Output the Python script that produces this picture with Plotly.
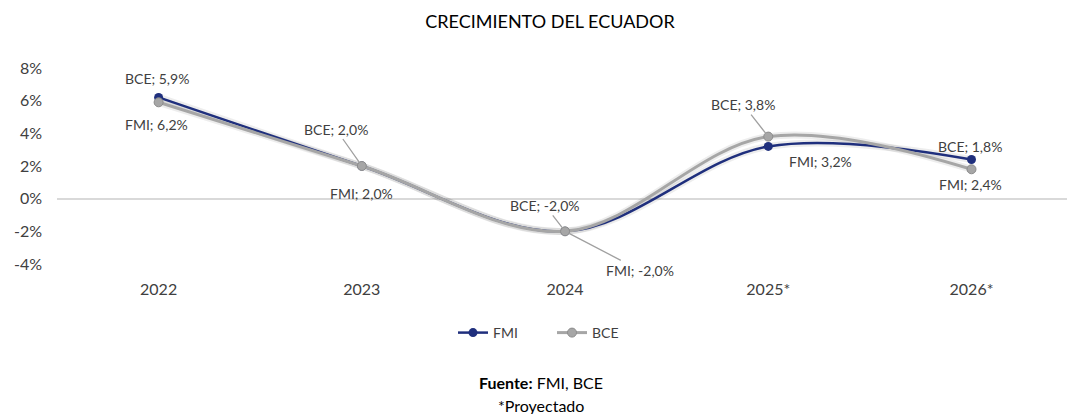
import plotly.graph_objects as go

years = ["2022", "2023", "2024", "2025*", "2026*"]
fmi = [6.2, 2.0, -2.0, 3.2, 2.4]
bce = [5.9, 2.0, -2.0, 3.8, 1.8]
y_ticks = [-4, -2, 0, 2, 4, 6, 8]
y_tick_text = ["-4%", "-2%", "0%", "2%", "4%", "6%", "8%"]

FONT = "Lato"
NAVY = "#1f2f7d"
GRAY = "#a6a6a6"
TXT = "#404040"

xs = list(range(len(years)))

fig = go.Figure()
# soft shadows
for vals in (fmi, bce):
    fig.add_trace(go.Scatter(x=xs, y=vals, mode="lines",
                             line=dict(color="rgba(0,0,0,0.07)", width=7, shape="spline"),
                             showlegend=False, hoverinfo="skip"))
fig.add_trace(go.Scatter(x=xs, y=fmi, name="FMI", mode="lines+markers",
                         line=dict(color=NAVY, width=2.5, shape="spline"),
                         marker=dict(color=NAVY, size=9)))
fig.add_trace(go.Scatter(x=xs, y=bce, name="BCE", mode="lines+markers",
                         line=dict(color=GRAY, width=3, shape="spline"),
                         marker=dict(color=GRAY, size=9, line=dict(color="#8c8c8c", width=1))))

def fmt(v):
    return f"{v:.1f}".replace(".", ",") + "%"

# label placements (pixel offsets): (kind, dx, dy)
bce_place = [("s", -2, 24), ("a", -26, -37), ("a", -20, -26), ("a", -25, -32), ("s", -1, 23)]
fmi_place = [("s", -2, -27), ("s", 0, -27), ("a", 75, 39), ("s", 52, -15), ("s", -1, -25)]

for name, vals, places in (("BCE", bce, bce_place), ("FMI", fmi, fmi_place)):
    for i, (v, (kind, dx, dy)) in enumerate(zip(vals, places)):
        text = f"{name}; {fmt(v)}"
        if kind == "s":
            fig.add_annotation(x=xs[i], y=v, text=text, showarrow=False,
                               xshift=dx, yshift=dy,
                               font=dict(family=FONT, size=14, color=TXT))
        else:
            fig.add_annotation(x=xs[i], y=v, text=text, showarrow=True,
                               arrowhead=0, arrowwidth=1.3, arrowcolor="#a0a0a0",
                               ax=dx, ay=dy, standoff=4,
                               font=dict(family=FONT, size=14, color=TXT))

plot_h = 196.0
def py(pix):
    # pixel y in figure -> paper coordinate (plot area from 68 to 264)
    return (264 - pix) / plot_h
def px(pix):
    return (pix - 57) / 1010.0

fig.add_annotation(xref="paper", yref="paper", x=px(541), y=py(382), yanchor="middle",
                   text="<b>Fuente:</b> FMI, BCE", showarrow=False,
                   font=dict(family=FONT, size=16, color="#000000"))
fig.add_annotation(xref="paper", yref="paper", x=px(541), y=py(405), yanchor="middle",
                   text="*Proyectado", showarrow=False,
                   font=dict(family=FONT, size=16, color="#000000"))

fig.update_layout(
    width=1067, height=414,
    margin=dict(l=57, r=0, t=68, b=150),
    paper_bgcolor="white", plot_bgcolor="white",
    title=dict(text="CRECIMIENTO DEL ECUADOR", x=550 / 1067, xanchor="center",
               y=1 - 22 / 414, yanchor="middle", yref="container",
               font=dict(family=FONT, size=18, color="#000000")),
    legend=dict(orientation="h", x=px(552), xanchor="center",
                y=py(333), yanchor="middle", entrywidth=54,
                font=dict(family=FONT, size=14, color=TXT)),
    showlegend=True,
)
fig.update_xaxes(range=[-0.5, 4.47], tickvals=xs, ticktext=years,
                 showgrid=False, zeroline=False, showline=False,
                 ticks="", ticklabelstandoff=14,
                 tickfont=dict(family=FONT, size=16, color=TXT))
fig.update_yaxes(range=[-4, 8], tickvals=y_ticks, ticktext=y_tick_text,
                 showgrid=False, zeroline=True, zerolinecolor="#d9d9d9", zerolinewidth=2,
                 showline=False, ticks="", ticklabelstandoff=14,
                 tickfont=dict(family=FONT, size=16, color=TXT))

fig.write_html("out.html", config={"displayModeBar": False},
               post_script="document.body.style.margin='0';document.body.style.padding='0';")
